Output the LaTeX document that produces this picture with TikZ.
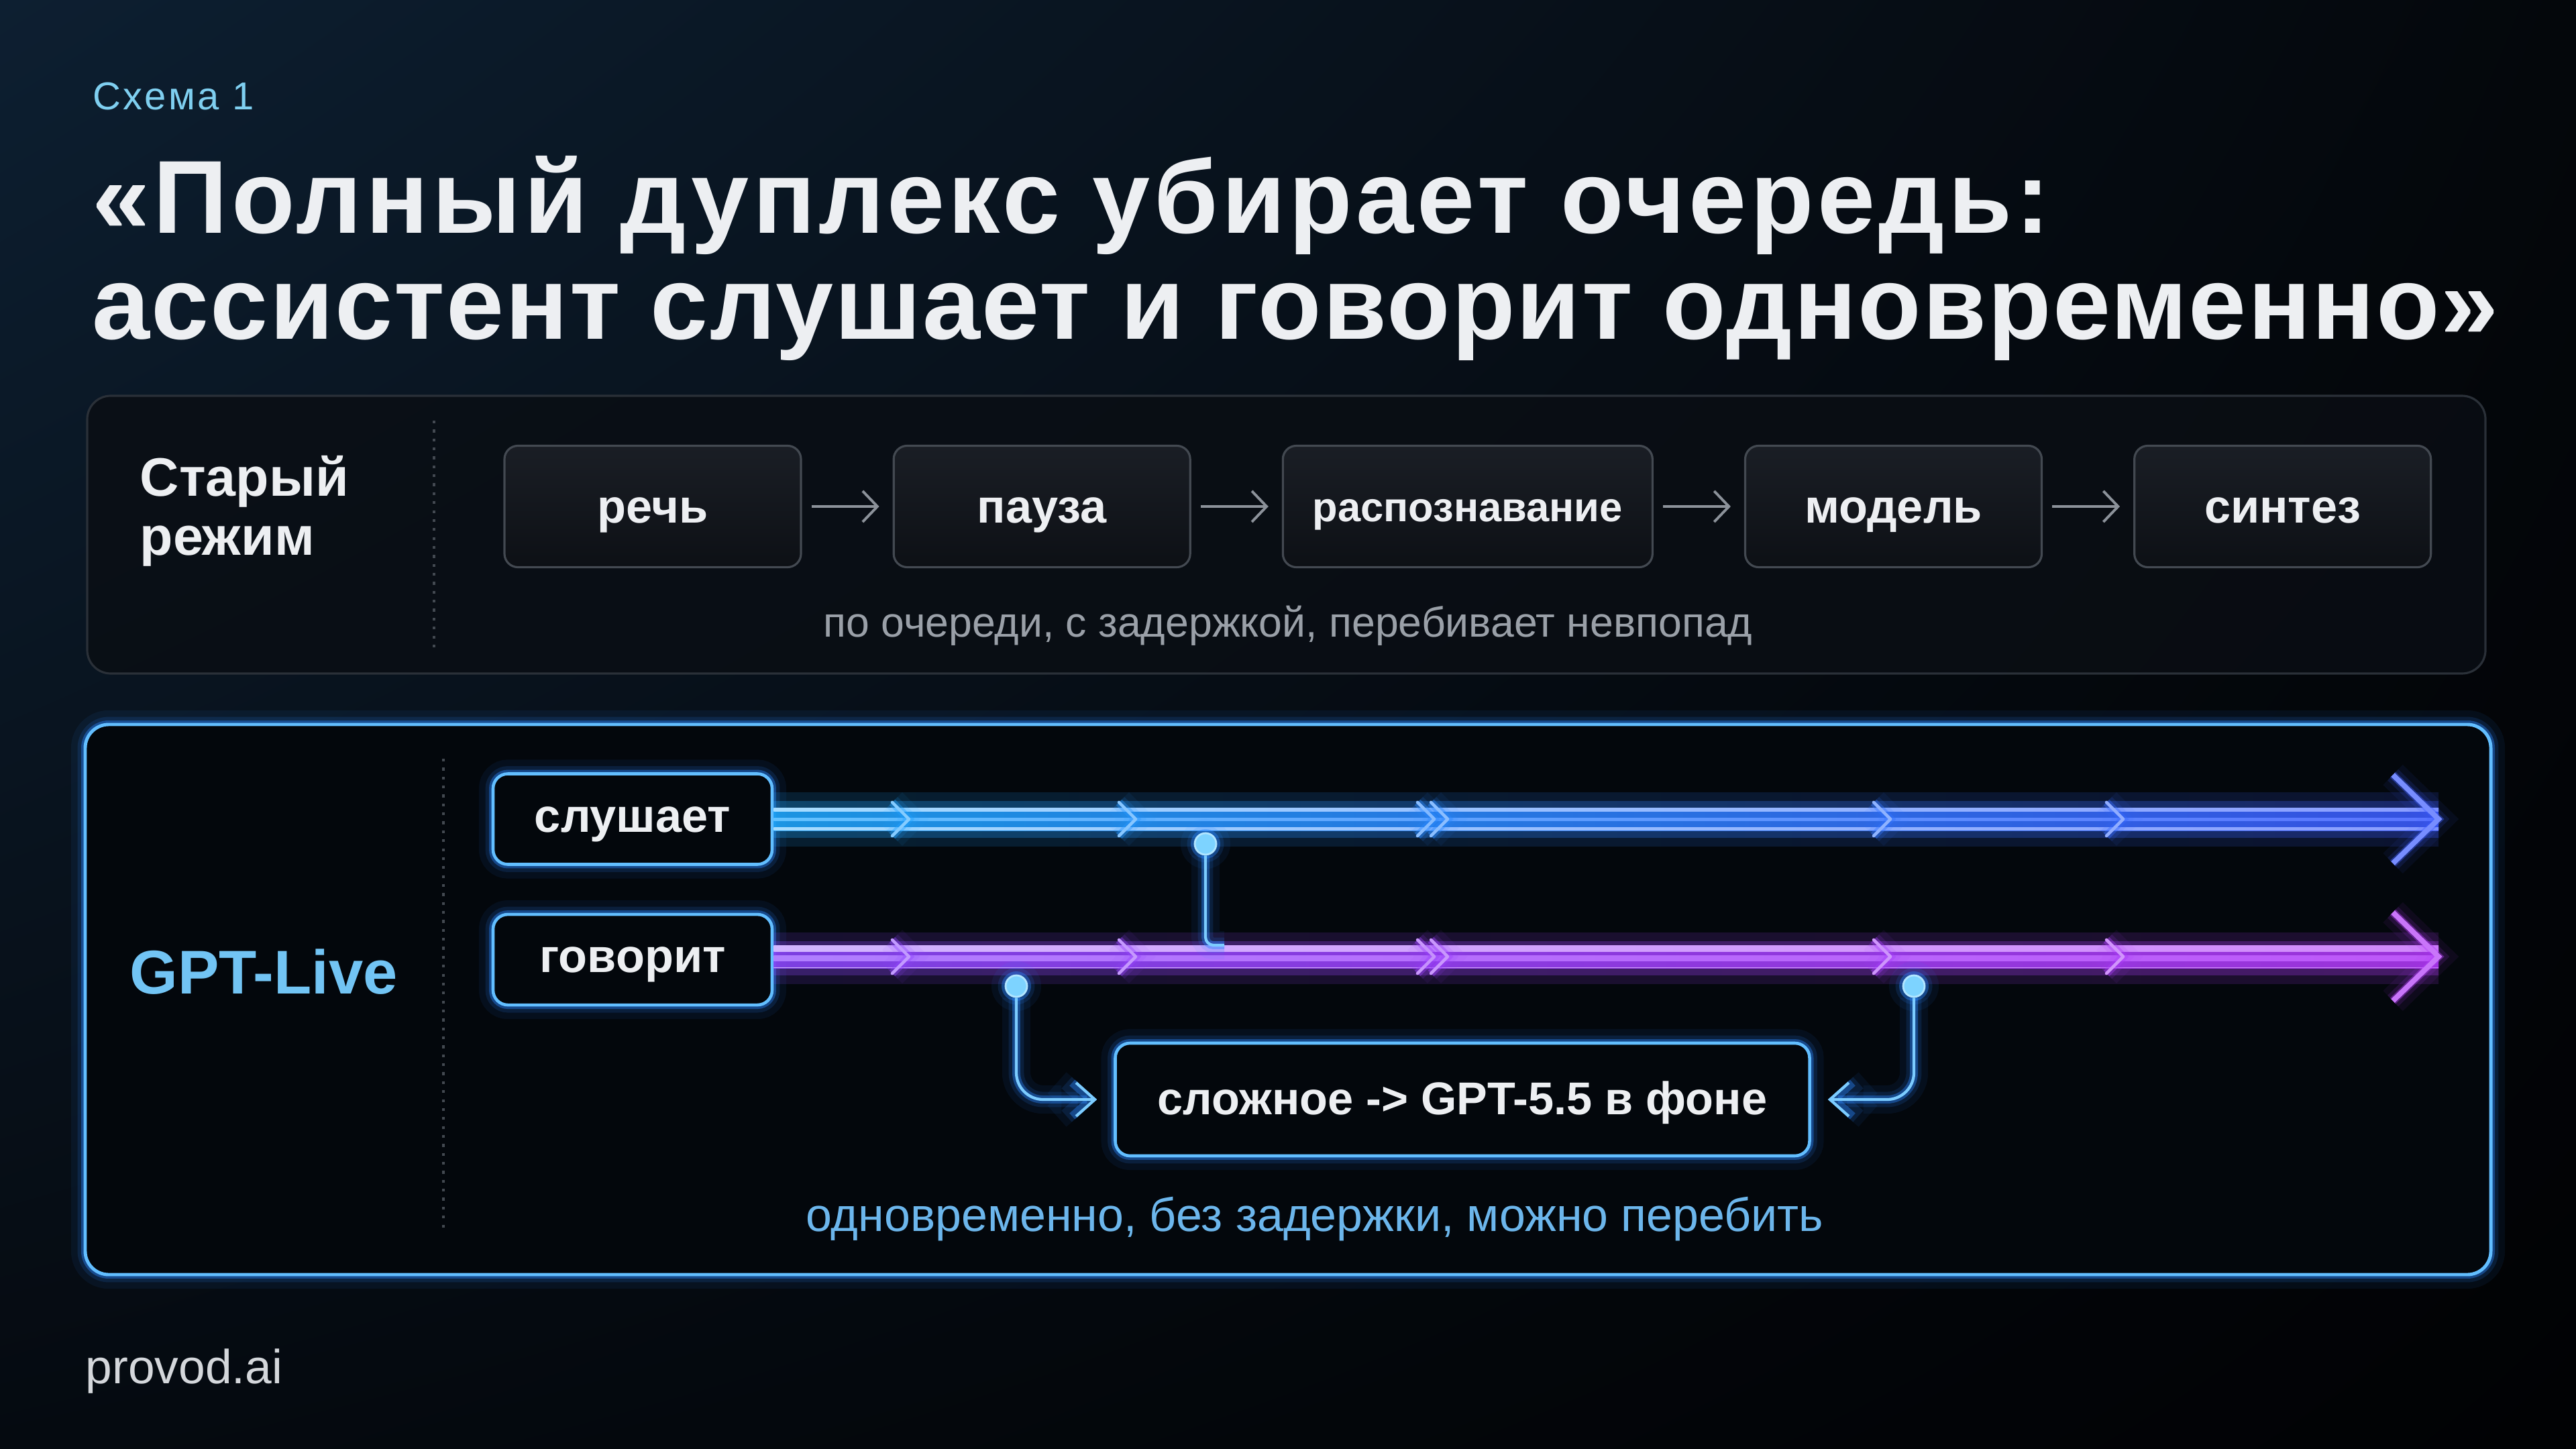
\documentclass[tikz,border=0pt]{standalone}
\usepackage{fontspec}
\setmainfont{Liberation Sans}
\usetikzlibrary{positioning,arrows.meta,shadings}

\definecolor{bgul}{HTML}{0D1F31}
\definecolor{bgur}{HTML}{04070B}
\definecolor{bgll}{HTML}{050A10}
\definecolor{bglr}{HTML}{010204}
\definecolor{txtwhite}{HTML}{EDEFF2}
\definecolor{skyblue}{HTML}{7FCFF0}
\definecolor{oldedge}{HTML}{2A3038}
\definecolor{oldfill}{HTML}{0A0E14}
\definecolor{boxedge}{HTML}{434951}
\definecolor{boxtop}{HTML}{1A1E25}
\definecolor{boxbot}{HTML}{0D1015}
\definecolor{arrgray}{HTML}{8C929A}
\definecolor{capgray}{HTML}{9AA0A8}
\definecolor{liveedge}{HTML}{62BEFF}
\definecolor{liveglow}{HTML}{2A86FF}
\definecolor{livefill}{HTML}{03070C}
\definecolor{livetitle}{HTML}{72C4F4}
\definecolor{dotblue}{HTML}{7DD3FF}
\definecolor{connblue}{HTML}{7CCCFF}
\definecolor{lbA}{HTML}{1FA8FF}
\definecolor{lbB}{HTML}{3D5CFF}
\definecolor{lvA}{HTML}{8E48FF}
\definecolor{lvB}{HTML}{B23AF8}
\definecolor{livecap}{HTML}{6CB6EC}
\definecolor{footgray}{HTML}{D4D7DB}

\begin{document}
\begin{tikzpicture}[>={Straight Barb[length=2.2mm,width=4.6mm]},node distance=1.35cm,
 txt/.style={inner sep=0pt,anchor=base west},
 oldbox/.style={rectangle,rounded corners=0.2cm,draw=boxedge,line width=0.9pt,top color=boxtop,bottom color=boxbot,minimum width=4.42cm,minimum height=1.81cm,text=txtwhite,font=\fontsize{20}{24}\selectfont\bfseries,text height=14pt,text depth=0pt},
 oldarrow/.style={->,draw=arrgray,line width=1.1pt,shorten <=0.14cm,shorten >=0.2cm},
 glow/.style={preaction={draw=#1,line width=12pt,opacity=0.07},preaction={draw=#1,line width=6.5pt,opacity=0.14},preaction={draw=#1,line width=3.4pt,opacity=0.4}},
 livebox/.style={rectangle,rounded corners=0.22cm,draw=liveedge,line width=1.3pt,fill=livefill,glow=liveglow,minimum width=4.16cm,minimum height=1.35cm,text=txtwhite,font=\fontsize{20}{24}\selectfont\bfseries,text height=11pt,text depth=0pt},
 livedot/.style={circle,fill=dotblue,draw=dotblue!60!white,line width=0.8pt,inner sep=0pt,minimum size=0.32cm,glow=liveglow},
 conn/.style={draw=connblue,line width=1.2pt,glow=liveglow,rounded corners=0.4cm},
 chev/.style={line width=1.3pt,line cap=round,line join=round},
 sepline/.style={draw=#1,line width=0.9pt,dash pattern=on 1.2pt off 2.6pt}]

 % background and frame of the page
 \shade[upper left=bgul,upper right=bgur,lower left=bgll,lower right=bglr] (0,0) rectangle (38.4,-21.6);
 \useasboundingbox (0,0) rectangle (38.4,-21.6);

 % heading
 \node[txt,text=skyblue,font=\fontsize{16.5}{20}\selectfont\addfontfeatures{LetterSpace=6}] (schema) at (1.38,-1.64) {Схема 1};
 \node[txt,text=txtwhite,font=\fontsize{44}{48}\selectfont\bfseries\addfontfeatures{LetterSpace=3.5}] (title1) at (1.37,-3.48) {«Полный дуплекс убирает очередь:};
 \node[txt,text=txtwhite,font=\fontsize{44}{48}\selectfont\bfseries\addfontfeatures{LetterSpace=1.4}] (title2) at (1.37,-5.06) {ассистент слушает и говорит одновременно»};

 % old mode
 \draw[draw=oldedge,fill=oldfill,fill opacity=0.85,line width=0.9pt,rounded corners=0.35cm] (1.30,-5.90) rectangle (37.05,-10.04);
 \draw[sepline=boxedge] (6.47,-6.27) -- (6.47,-9.72);
 \node[txt,text=txtwhite,font=\fontsize{23}{28}\selectfont\bfseries] (stary) at (2.08,-7.40) {Старый};
 \node[txt,text=txtwhite,font=\fontsize{23}{28}\selectfont\bfseries] (rezhim) at (2.08,-8.27) {режим};

 \node[oldbox] (rech) at (9.73,-7.55) {речь};
 \node[oldbox,right=of rech] (pauza) {пауза};
 \node[oldbox,right=of pauza,minimum width=5.51cm,font=\fontsize{17.5}{22}\selectfont\bfseries,text height=12.6pt] (raspozn) {распознавание};
 \node[oldbox,right=of raspozn] (model) {модель};
 \node[oldbox,right=of model] (sintez) {синтез};
 \foreach \a/\b in {rech/pauza,pauza/raspozn,raspozn/model,model/sintez}
  \draw[oldarrow] (\a) -- (\b);
 \node[inner sep=0pt,text=capgray,font=\fontsize{17.8}{21}\selectfont] (oldcap) at (19.2,-9.33) {по очереди, с задержкой, перебивает невпопад};

 % GPT-Live mode
 \draw[draw=liveedge,fill=livefill,line width=1.4pt,rounded corners=0.35cm,glow=liveglow] (1.27,-10.80) rectangle (37.13,-19.00);
 \draw[sepline=boxedge] (6.61,-11.31) -- (6.61,-18.37);
 \node[txt,text=livetitle,font=\fontsize{26.2}{32}\selectfont\bfseries] (gptlive) at (1.93,-14.81) {GPT-Live};

 \node[livebox] (slush) at (9.43,-12.21) {слушает};
 \node[livebox,below=0.7cm of slush] (govor) {говорит};
 \coordinate (l1tip) at (36.35,-12.21);
 \coordinate (l2tip) at (36.35,-14.26);

 % two lanes: glow, band, three thin lines, chevrons, big head
 \foreach \bx/\lanetip/\ca/\cb/\ly in {slush/l1tip/lbA/lbB/-12.21,govor/l2tip/lvA/lvB/-14.26}{
  \shade[left color=\ca,right color=\cb,opacity=0.15] ([yshift=0.4cm]\bx.east) rectangle ([yshift=-0.4cm]\lanetip);
  \shade[left color=\ca,right color=\cb,opacity=0.28] ([yshift=0.27cm]\bx.east) rectangle ([yshift=-0.27cm]\lanetip);
  \shade[left color=\ca,right color=\cb,opacity=0.8] ([yshift=0.17cm]\bx.east) rectangle ([yshift=-0.17cm]\lanetip);
  \shade[left color=\ca!40!white,right color=\cb!60!white] ([yshift=0.12cm]\bx.east) rectangle ([yshift=0.165cm]\lanetip);
  \shade[left color=\ca!70!white,right color=\cb!85!white] ([yshift=-0.02cm]\bx.east) rectangle ([yshift=0.02cm]\lanetip);
  \shade[left color=\ca!40!white,right color=\cb!60!white] ([yshift=-0.12cm]\bx.east) rectangle ([yshift=-0.165cm]\lanetip);
  \foreach \cx in {13.42,16.80,21.25,21.45,28.05,31.52}{
   \pgfmathtruncatemacro\pc{100-(\cx-11.5)/24.85*100}
   \draw[chev,draw=\ca!\pc!\cb!55!white,glow=\ca!\pc!\cb] (\cx-0.12,\ly+0.25) -- (\cx+0.13,\ly) -- (\cx-0.12,\ly-0.25);
  }
  \draw[draw=\cb!70!white,line width=2.2pt,glow=\cb] ([shift={(-0.68,0.66)}]\lanetip) -- (\lanetip) -- ([shift={(-0.68,-0.66)}]\lanetip);
 }

 \node[livedot] (d1) at (17.97,-12.58) {};
 \node[livedot] (d2) at (15.15,-14.70) {};
 \node[livedot] (d3) at (28.53,-14.70) {};
 \node[livebox,minimum width=10.35cm,minimum height=1.68cm,font=\fontsize{19.5}{23}\selectfont\bfseries,text height=13pt] (fon) at (21.8,-16.39) {сложное -> GPT-5.5 в фоне};

 \coordinate (j1) at (18.25,-14.09);
 \draw[conn,rounded corners=0.12cm] (d1) |- (j1);
 \draw[conn,-{Straight Barb[length=2.8mm,width=5mm]},shorten >=0.25cm] (d2) |- (fon.west);
 \draw[conn,-{Straight Barb[length=2.8mm,width=5mm]},shorten >=0.25cm] (d3) |- (fon.east);

 \node[inner sep=0pt,text=livecap,font=\fontsize{19.9}{23}\selectfont] (livecaption) at (19.6,-18.17) {одновременно, без задержки, можно перебить};

 % footer
 \node[txt,text=footgray,font=\fontsize{20.3}{24}\selectfont] (footer) at (1.27,-20.62) {provod.ai};
\end{tikzpicture}
\end{document}
